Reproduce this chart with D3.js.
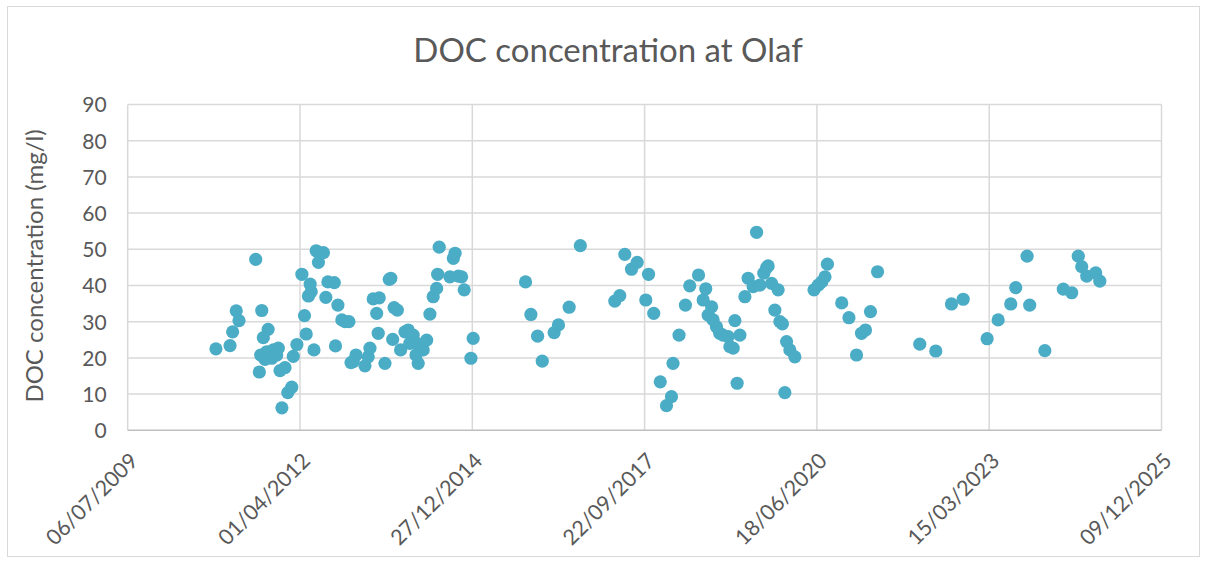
<!DOCTYPE html>
<html><head><meta charset="utf-8">
<script src="https://cdn.jsdelivr.net/npm/d3@7"></script>
<style>html,body{margin:0;padding:0;background:#fff;}svg{display:block;font-family:Lato,"Open Sans",sans-serif;}</style>
</head><body><svg id="c" width="1207" height="566"></svg>
<script>
const title = "DOC concentration at Olaf";
const yTitle = "DOC concentration (mg/l)";
const xTickLabels = ["06/07/2009","01/04/2012","27/12/2014","22/09/2017","18/06/2020","15/03/2023","09/12/2025"];
const yTicks = [0,10,20,30,40,50,60,70,80,90];
const sampleDates = [
"2010-11-30","2011-02-20","2011-03-07","2011-03-28","2011-04-13","2011-07-19","2011-08-09","2011-08-17","2011-08-23","2011-09-01",
"2011-09-11","2011-09-21","2011-09-29","2011-10-20","2011-10-29","2011-11-18","2011-11-27","2011-12-07","2011-12-18","2012-01-05",
"2012-01-21","2012-02-13","2012-02-22","2012-03-14","2012-04-12","2012-04-27","2012-05-07","2012-05-20","2012-05-30","2012-06-05",
"2012-06-21","2012-07-04","2012-07-17","2012-08-15","2012-08-29","2012-09-10","2012-10-17","2012-10-24","2012-11-07","2012-11-30",
"2012-12-19","2013-01-10","2013-01-22","2013-02-04","2013-02-20","2013-04-13","2013-05-02","2013-05-12","2013-05-31","2013-06-20",
"2013-06-29","2013-07-05","2013-08-07","2013-09-01","2013-09-10","2013-09-21","2013-09-29","2013-10-18","2013-11-06","2013-12-01",
"2013-12-20","2013-12-29","2014-01-18","2014-02-03","2014-02-07","2014-02-16","2014-03-17","2014-04-06","2014-04-25","2014-05-14",
"2014-06-03","2014-06-09","2014-06-18","2014-08-19","2014-09-08","2014-09-18","2014-10-07","2014-10-26","2014-11-10","2014-12-19",
"2015-01-01","2015-11-01","2015-12-02","2016-01-10","2016-02-06","2016-04-15","2016-05-10","2016-07-11","2016-09-14","2017-04-02",
"2017-05-01","2017-05-30","2017-07-08","2017-08-10","2017-09-29","2017-10-15","2017-11-14","2017-12-22","2018-01-27","2018-02-25",
"2018-03-06","2018-04-10","2018-05-17","2018-06-11","2018-08-01","2018-08-28","2018-09-12","2018-09-26","2018-10-16","2018-10-25",
"2018-11-13","2018-12-02","2018-12-21","2019-01-20","2019-01-30","2019-02-18","2019-02-28","2019-03-13","2019-03-29","2019-04-27",
"2019-05-16","2019-06-14","2019-07-04","2019-07-23","2019-08-15","2019-08-31","2019-09-09","2019-09-29","2019-10-18","2019-11-06",
"2019-11-16","2019-12-01","2019-12-15","2019-12-25","2020-01-13","2020-02-11","2020-06-01","2020-06-26","2020-07-16","2020-08-04",
"2020-08-18","2020-11-09","2020-12-21","2021-02-03","2021-03-04","2021-03-27","2021-04-25","2021-06-05","2022-02-05","2022-05-09",
"2022-08-08","2022-10-15","2023-03-03","2023-05-06","2023-07-18","2023-08-16","2023-10-21","2023-11-05","2024-02-01","2024-05-18",
"2024-07-06","2024-08-13","2024-09-02","2024-10-01","2024-11-22","2024-12-16"
];
const docValues = [
22.5,23.4,27.2,33.0,30.3,47.2,16.1,20.8,33.1,25.6,
19.6,21.7,27.9,19.9,22.2,20.8,22.7,16.5,6.2,17.3,
10.4,11.9,20.4,23.7,43.1,31.7,26.6,37.1,40.4,38.3,
22.2,49.6,46.4,49.1,36.7,41.0,40.8,23.3,34.6,30.5,
30.0,30.0,18.7,19.0,20.8,17.8,20.3,22.7,36.3,32.3,
26.8,36.6,18.5,41.7,42.0,25.1,33.9,33.2,22.2,27.2,
27.7,24.0,26.3,20.8,24.0,18.5,22.2,24.9,32.1,36.9,
39.2,43.1,50.6,42.4,47.5,48.9,42.6,42.4,38.8,19.9,
25.4,41.0,32.0,26.0,19.1,27.0,29.1,34.0,51.0,35.7,
37.2,48.6,44.5,46.4,36.0,43.1,32.3,13.4,6.8,9.3,
18.5,26.3,34.6,39.9,42.9,36.0,39.1,31.8,34.1,30.5,
28.6,26.8,26.3,25.9,23.1,22.7,30.3,13.0,26.3,36.9,
42.0,39.7,54.7,40.1,43.4,44.9,45.4,40.6,33.2,38.8,
30.0,29.4,10.4,24.5,22.2,20.3,38.8,40.1,41.0,42.4,
45.9,35.2,31.1,20.8,26.8,27.7,32.8,43.8,23.8,21.9,
34.9,36.2,25.3,30.5,34.9,39.4,48.1,34.6,22.0,39.0,
38.0,48.1,45.2,42.6,43.5,41.2
];

const parseTick = d3.timeParse("%d/%m/%Y");
const parseDate = d3.timeParse("%Y-%m-%d");
const tickDates = xTickLabels.map(parseTick);
const data = sampleDates.map((d,i)=>({date:parseDate(d), value:docValues[i]}));

const svg = d3.select("#c");
const pLeft = 127.7, pRight = 1161.5, pTop = 104.5, pBottom = 430.3;
const x = d3.scaleTime().domain([tickDates[0], tickDates[tickDates.length-1]]).range([pLeft, pRight]);
const y = d3.scaleLinear().domain([0, 90]).range([pBottom, pTop]);
const textCol = "#595959", gridCol = "#d9d9d9";

// outer border
svg.append("rect").attr("x",7.5).attr("y",6.5).attr("width",1192).attr("height",550)
  .attr("fill","#fff").attr("stroke","#d9d9d9").attr("stroke-width",1);

// horizontal grid
svg.append("g").selectAll("line").data(yTicks.filter(d=>d>0)).join("line")
  .attr("x1",pLeft).attr("x2",pRight).attr("y1",d=>y(d)).attr("y2",d=>y(d))
  .attr("stroke",gridCol).attr("stroke-width",1.5);
// vertical grid
svg.append("g").selectAll("line").data(tickDates).join("line")
  .attr("x1",d=>x(d)).attr("x2",d=>x(d)).attr("y1",pTop).attr("y2",pBottom)
  .attr("stroke",gridCol).attr("stroke-width",1.5);
// x axis line
svg.append("line").attr("x1",pLeft).attr("x2",pRight).attr("y1",pBottom).attr("y2",pBottom)
  .attr("stroke","#bfbfbf").attr("stroke-width",1.5);

// y tick labels
const yAxis = d3.axisLeft(y).tickValues(yTicks).tickSize(0).tickPadding(0);
const gy = svg.append("g").attr("transform",`translate(${pLeft-21},0)`).call(yAxis);
gy.select(".domain").remove();
gy.selectAll("text").attr("fill",textCol).style("font-size","21px").style("font-family","Lato").attr("dy","0.35em");

// x tick labels
const xAxis = d3.axisBottom(x).tickValues(tickDates).tickFormat(d3.timeFormat("%d/%m/%Y")).tickSize(0);
const gx = svg.append("g").attr("transform",`translate(0,${pBottom})`).call(xAxis);
gx.select(".domain").remove();
gx.selectAll("text").attr("fill",textCol).style("font-size","21.5px").style("font-family","Lato")
  .attr("text-anchor","end").attr("dy",null).attr("y",0)
  .attr("transform","translate(11,32) rotate(-45)");

// points
svg.append("g").selectAll("circle").data(data).join("circle")
  .attr("cx",d=>x(d.date)).attr("cy",d=>y(d.value)).attr("r",6.6)
  .attr("fill","#4bacc6");

// title
svg.append("text").attr("x",608).attr("y",62).attr("text-anchor","middle")
  .attr("fill",textCol).style("font-size","33px").text(title);
// y axis title
svg.append("text").attr("transform","translate(43,266) rotate(-90)").attr("text-anchor","middle")
  .attr("fill",textCol).style("font-size","24px").text(yTitle);
</script></body></html>
